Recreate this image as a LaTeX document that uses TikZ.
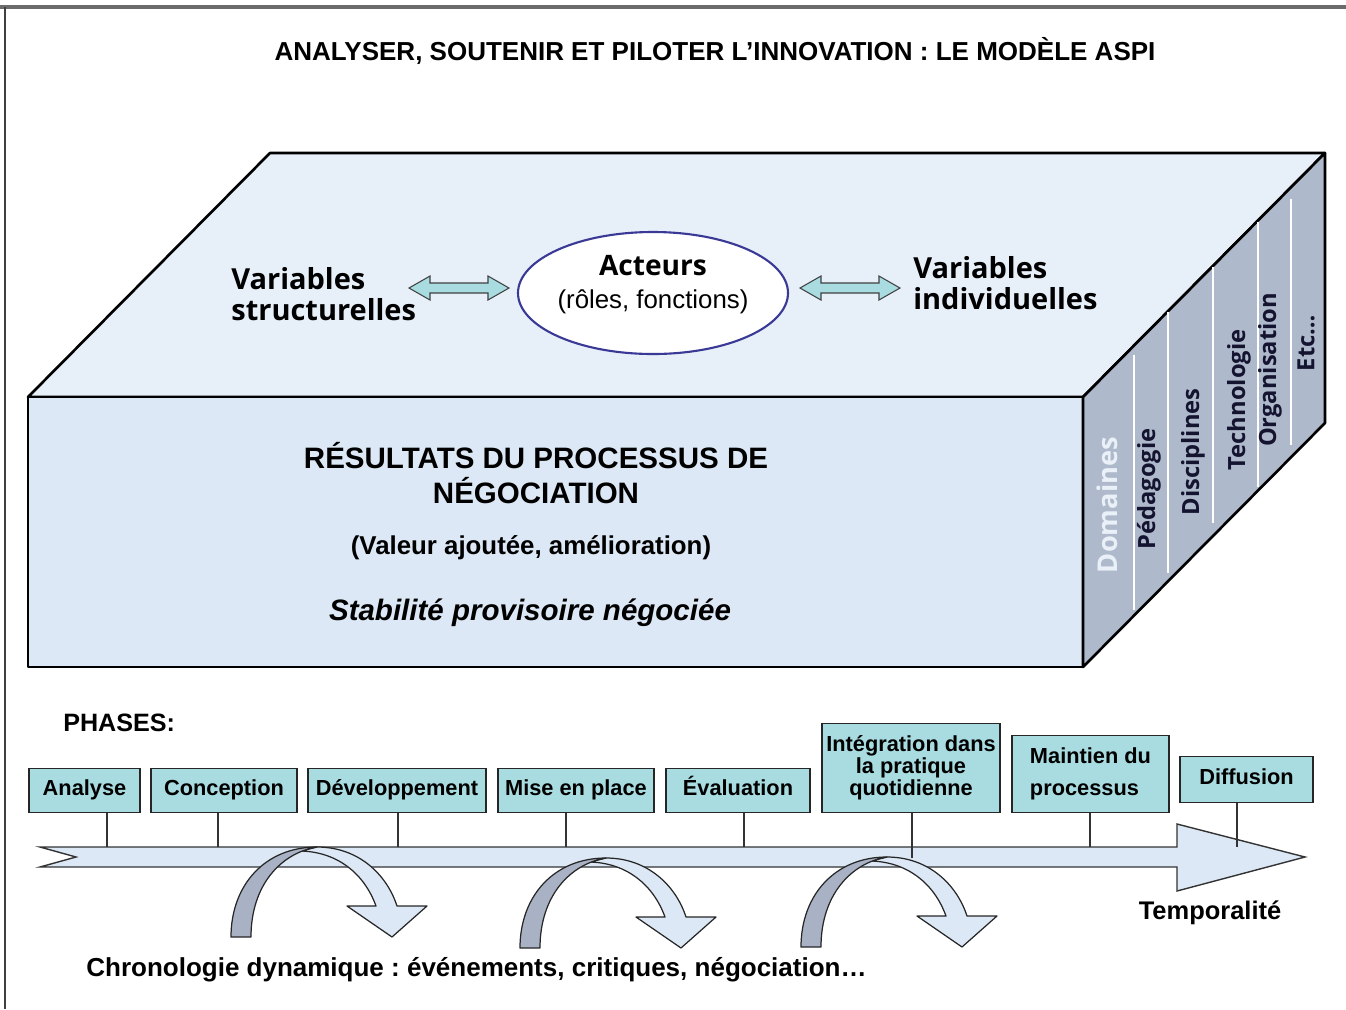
\documentclass[tikz,border=0pt]{standalone}
\usepackage{fontspec}
\setmainfont{Liberation Sans}
\newfontfamily\opensans{Open Sans}
\usetikzlibrary{shapes.geometric}
\frenchspacing
\newlength\pxu
\setlength\pxu{0.02cm}
\definecolor{topface}{RGB}{231,239,248}
\definecolor{frontface}{RGB}{220,232,245}
\definecolor{sideface}{RGB}{174,185,203}
\definecolor{phasefill}{RGB}{168,220,224}
\definecolor{ellborder}{RGB}{58,58,150}
\definecolor{loopgray}{RGB}{168,178,196}
\definecolor{sidetext}{RGB}{20,20,48}
\definecolor{domtext}{RGB}{234,240,248}
\begin{document}
\begin{tikzpicture}[x=0.02cm, y=-0.02cm,
  face/.style={draw=black, line width=1.5pt, line join=round},
  phase/.style={draw=black!85, fill=phasefill, line width=0.8pt, inner sep=0pt, align=center,
    font=\fontsize{12.4}{12.5}\selectfont\bfseries},
  oneline/.style={text height=9pt, text depth=2.6pt},
  tick/.style={draw=black!80, line width=0.6pt},
  dblarr/.style={draw=black!75, fill=phasefill, line width=0.6pt, line join=miter},
  sidelbl/.style={rotate=90, inner sep=0pt, text=sidetext, font=\opensans\bfseries\fontsize{13.5}{15}\selectfont},
  loop/.style={draw=black!85, line width=0.7pt, line join=round},
  divider/.style={draw=white, line width=1.1pt}]
\useasboundingbox (0,0) rectangle (1346,1009);
\draw[line width=2.2pt, black!58] (0,7) -- (1346,7);
\draw[line width=0.9pt, black!75] (5,7) -- (5,1009);

\node[font=\fontsize{14.8}{17}\selectfont\bfseries] (title) at (715,51) {ANALYSER, SOUTENIR ET PILOTER L’INNOVATION : LE MODÈLE ASPI};

\filldraw[face, fill=topface] (28,397) -- (270,153) -- (1325,153) -- (1083,397) -- cycle;
\filldraw[face, fill=frontface] (28,397) rectangle (1083,667);
\filldraw[face, fill=sideface] (1083,397) -- (1325,153) -- (1325,423) -- (1083,667) -- cycle;
\foreach \dx/\top/\bot in {51/9/6, 85/1/8, 130/1/13, 175/1/4, 208/12/12}
  \draw[divider] (1083+\dx, 397-\dx*1.008+\top) -- (1083+\dx, 667-\dx*1.008-\bot);

\node[sidelbl, text=domtext, font=\opensans\bfseries\fontsize{15.5}{17}\selectfont] (dom) at (1107,505) {Domaines};
\node[sidelbl] (ped) at (1149,489) {Pédagogie};
\node[sidelbl] (disc) at (1193,452) {Disciplines};
\node[sidelbl] (tech) at (1239,400) {Technologie};
\node[sidelbl] (org) at (1270,370) {Organisation};
\node[sidelbl] (etc) at (1306,343) {Etc…};

\node[anchor=west, inner sep=0pt, align=left, font=\opensans\bfseries\fontsize{16.5}{18}\selectfont] (varstruct) at (231,294) {Variables\\structurelles};
\node[anchor=west, inner sep=0pt, align=left, font=\opensans\bfseries\fontsize{16.5}{18}\selectfont] (varindiv) at (913,283) {Variables\\individuelles};
\node[ellipse, draw=ellborder, line width=1.2pt, fill=white, minimum width=270\pxu, minimum height=122\pxu, inner sep=0pt] (act) at (653,293) {};
\node[align=center, font=\fontsize{14.7}{18.7}\selectfont] (actlbl) at (653,285) {{\opensans\bfseries\fontsize{16}{18.7}\selectfont Acteurs}\\(rôles, fonctions)};
\coordinate (dl) at (409,288);
\coordinate (dr) at (800,288);
\filldraw[dblarr] (dl) -- ++(21,-12) -- ++(0,7) -- ++(58,0) -- ++(0,-7) -- ++(21,12) -- ++(-21,12) -- ++(0,-7) -- ++(-58,0) -- ++(0,7) -- cycle;
\filldraw[dblarr] (dr) -- ++(21,-12) -- ++(0,7) -- ++(58,0) -- ++(0,-7) -- ++(21,12) -- ++(-21,12) -- ++(0,-7) -- ++(-58,0) -- ++(0,7) -- cycle;

\node[align=center, font=\fontsize{16.8}{19.8}\selectfont\bfseries] (res) at (536,473) {RÉSULTATS DU PROCESSUS DE\\NÉGOCIATION};
\node[font=\fontsize{14.7}{17}\selectfont\bfseries] (val) at (531,548) {(Valeur ajoutée, amélioration)};
\node[font=\fontsize{16.8}{19}\selectfont\bfseries\itshape] (stab) at (530,613) {Stabilité provisoire négociée};

\node[anchor=west, inner sep=0pt, font=\fontsize{14.3}{16}\selectfont\bfseries] (phases) at (63,723) {PHASES:};

\filldraw[draw=black!80, fill=frontface, line width=0.8pt, line join=miter] (40,847) -- (1177,847) -- (1177,824) -- (1305,857) -- (1177,891) -- (1177,867) -- (40,867) -- (76,857) -- cycle;
\foreach \ox/\oy in {231/937, 520/948, 801/947}{
  \begin{scope}[shift={(\ox,\oy)}]
    \filldraw[loop, fill=frontface] (86,-90) .. controls (128,-90) and (156,-62) .. (166,-31) -- (196,-31) -- (161,0) -- (116,-31) -- (145,-31) .. controls (133,-64) and (106,-85) .. (70,-86) -- cycle;
    \filldraw[loop, fill=loopgray] (0,0) .. controls (0,-52) and (34,-90) .. (86,-90) .. controls (50,-84) and (20,-52) .. (20,0) -- cycle;
  \end{scope}
}

\node[phase, oneline, minimum width=111\pxu, minimum height=44\pxu, anchor=south] (analyse) at (84.5,813) {Analyse};
\node[phase, oneline, minimum width=146\pxu, minimum height=44\pxu, anchor=south] (conception) at (224,813) {Conception};
\node[phase, oneline, minimum width=178\pxu, minimum height=44\pxu, anchor=south] (devel) at (397,813) {Développement};
\node[phase, oneline, minimum width=156\pxu, minimum height=44\pxu, anchor=south] (miseplace) at (576,813) {Mise en place};
\node[phase, oneline, minimum width=144\pxu, minimum height=44\pxu, anchor=south] (evaluation) at (738,813) {Évaluation};
\node[phase, minimum width=178\pxu, minimum height=89\pxu, anchor=south] (integration) at (911,813) {Intégration dans\\la pratique\\quotidienne};
\node[phase, minimum width=157\pxu, minimum height=77\pxu, anchor=south, align=left] (maintien) at (1090.5,813) {Maintien du\\[6.2pt]processus};
\node[phase, oneline, minimum width=133\pxu, minimum height=46\pxu, anchor=south] (diffusion) at (1246.5,803) {Diffusion};

\coordinate (k1) at (107,847);
\coordinate (k2) at (218,847);
\coordinate (k3) at (398,847);
\coordinate (k4) at (566,847);
\coordinate (k5) at (744,847);
\coordinate (k6) at (912,858);
\coordinate (k7) at (1090,847);
\coordinate (k8) at (1237,847);
\foreach \bx/\kx in {analyse/k1, conception/k2, devel/k3, miseplace/k4, evaluation/k5, integration/k6, maintien/k7, diffusion/k8}
  \draw[tick] (\bx.south -| \kx) -- (\kx);

\node[font=\fontsize{14.5}{17}\selectfont\bfseries] (temp) at (1210,913) {Temporalité};
\node[anchor=west, inner sep=0pt, font=\fontsize{14.8}{17}\selectfont\bfseries] (chrono) at (86,970) {Chronologie dynamique : événements, critiques, négociation…};
\end{tikzpicture}
\end{document}
